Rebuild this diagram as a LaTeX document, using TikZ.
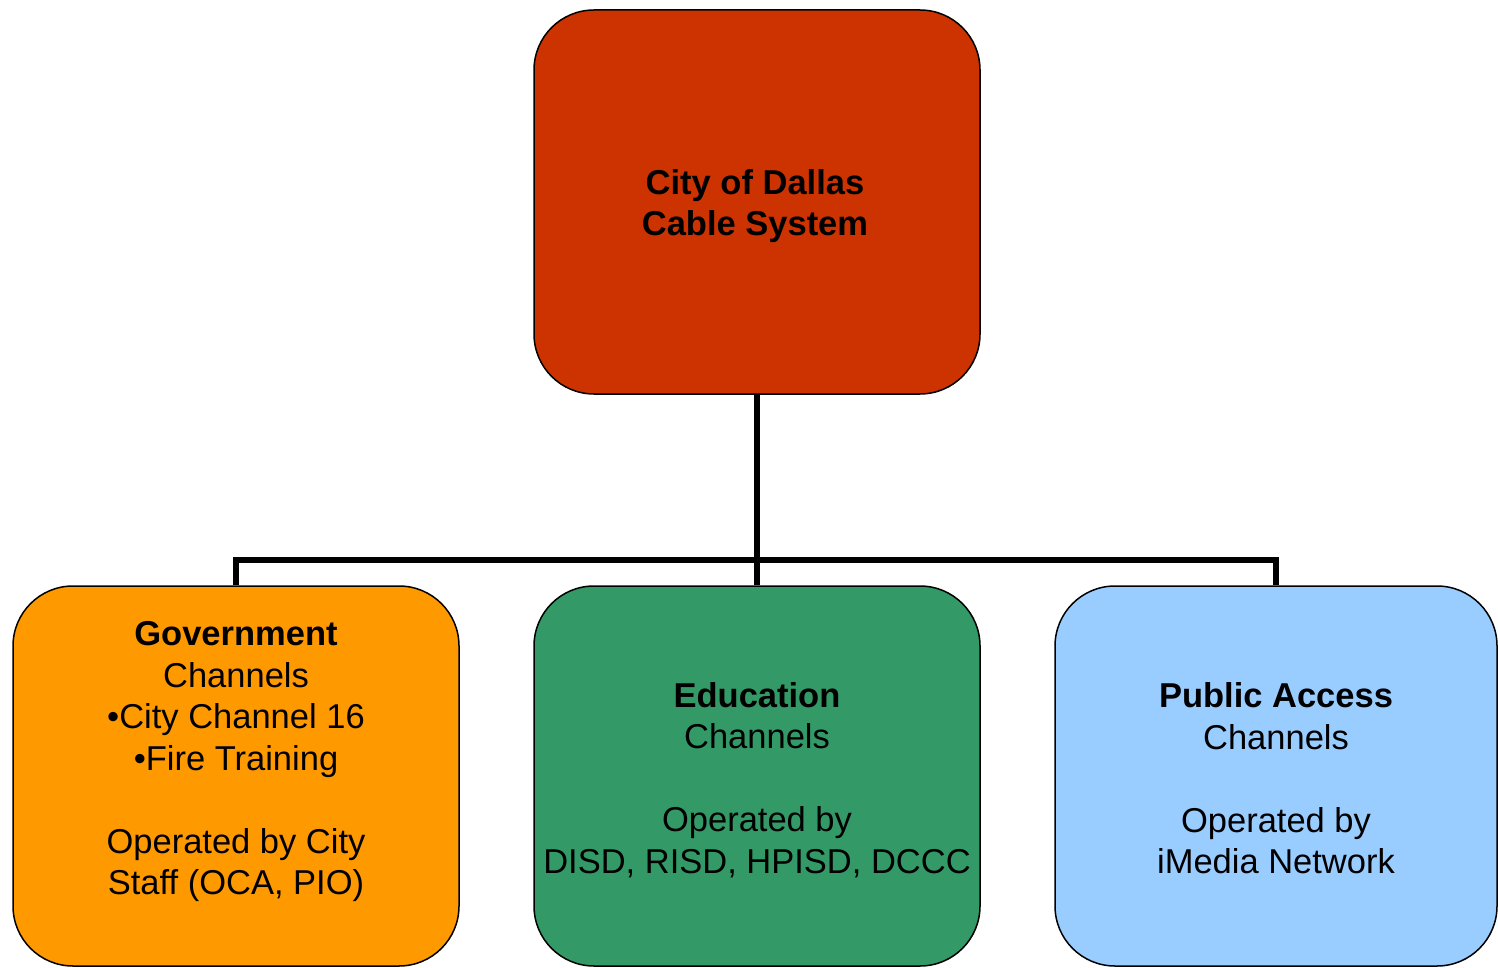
\documentclass[tikz,border=0pt]{standalone}
\usepackage{fontspec}
\setmainfont{Liberation Sans}
\definecolor{cred}{HTML}{CC3300}
\definecolor{corange}{HTML}{FF9900}
\definecolor{cgreen}{HTML}{339966}
\definecolor{cblue}{HTML}{99CCFF}
\begin{document}
\begin{tikzpicture}[x=1pt,y=-1pt,
  box/.style={draw=black, line width=1.5pt, rounded corners=60pt, inner sep=0pt},
  txt/.style={align=center, inner sep=0pt, font=\fontsize{34.5pt}{41.5pt}\selectfont},
  conn/.style={draw=black, line width=6pt, line join=miter}]
\useasboundingbox (0,0) rectangle (1498,968);
\node[box, fill=cred, minimum width=446pt, minimum height=384pt] (top) at (757,202) {};
\node[box, fill=corange, minimum width=446pt, minimum height=380pt] (gov) at (236,776) {};
\node[box, fill=cgreen, minimum width=446pt, minimum height=380pt] (edu) at (757,776) {};
\node[box, fill=cblue, minimum width=442pt, minimum height=380pt] (pub) at (1276,776) {};
\coordinate (bar) at (757,559.5);
\draw[conn] (top.south) -- (edu.north);
\draw[conn] (gov.north) |- (bar) -| (pub.north);
\node[txt] (toptxt) at (755,206) {\textbf{City of Dallas}\hspace{6pt}\\\textbf{Cable System}};
\node[txt] (govtxt) at (236,762) {\textbf{Government}\\Channels\\\textbullet City Channel 16\\\textbullet Fire Training\\[41.5pt]Operated by City\\Staff (OCA, PIO)};
\node[txt] (edutxt) at (757,780) {\textbf{Education}\\Channels\\[41.5pt]Operated by\\DISD, RISD, HPISD, DCCC};
\node[txt] (pubtxt) at (1276,778.5) {\textbf{Public Access}\\Channels\\[41.5pt]Operated by\\iMedia Network};
\end{tikzpicture}
\end{document}
